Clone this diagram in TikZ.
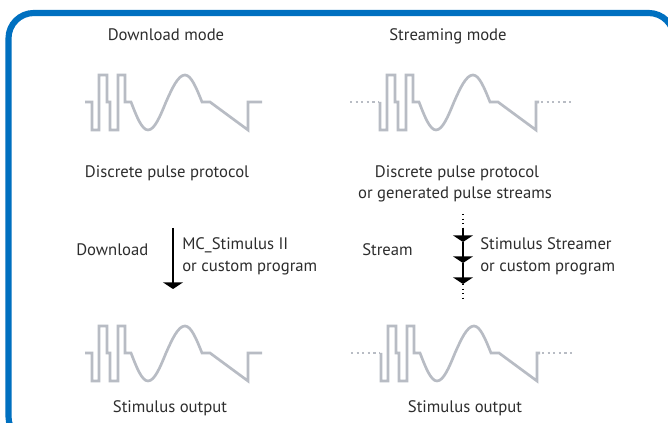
\documentclass[tikz,border=0pt]{standalone}
\usepackage{fontspec}
\setmainfont{PT Sans}
\usetikzlibrary{arrows.meta}
\definecolor{frameblue}{RGB}{0,112,192}
\definecolor{wavegray}{RGB}{184,188,196}
\definecolor{txtgray}{RGB}{45,45,45}
\tikzset{
  wavestyle/.style={draw=wavegray, line width=2pt, line join=miter},
  dotstyle/.style={draw=wavegray, line width=2pt, dash pattern=on 1.6pt off 2.6pt},
  lbl/.style={font=\fontsize{12.5pt}{15pt}\selectfont, text=txtgray, inner sep=0pt, anchor=base},
  lbll/.style={lbl, anchor=base west},
  arr/.style={draw=black, line width=1.1pt, -{Triangle[width=15pt,length=5pt]}},
  vdots/.style={draw=black, line width=0.8pt, dash pattern=on 0.8pt off 2.6pt},
  wavefull/.pic={
    \path[wavestyle] (0,0) -- (7,0) -- (7,28) -- (14,28) -- (14,-27) -- (22,-27) -- (22,0) -- (25,0)
      -- (25,28) -- (33,28) -- (33,-27) -- (40,-27) -- (40,0) -- (46,0)
      sin (63,28) cos (81,0) sin (100,-27) cos (117,0) -- (125,0) -- (163,28) -- (163,0) -- (177,0);
  },
  wavestream/.pic={
    \path[dotstyle] (-23,0) -- (6,0);
    \path[wavestyle] (7,0) -- (7,28) -- (14,28) -- (14,-27) -- (22,-27) -- (22,0) -- (25,0)
      -- (25,28) -- (33,28) -- (33,-27) -- (40,-27) -- (40,0) -- (46,0)
      sin (63,28) cos (81,0) sin (100,-27) cos (117,0) -- (125,0) -- (163,28) -- (163,0) -- (166,0);
    \path[dotstyle] (168,0) -- (200,0);
  }
}
\begin{document}
\begin{tikzpicture}[x=0.75pt,y=-0.75pt]
\useasboundingbox (0,0) rectangle (668,423);
\fill[white] (0,0) rectangle (668,423);
\begin{scope}
  \clip (0,0) rectangle (668,423);
  \draw[frameblue, line width=4.6pt, rounded corners=19pt] (8.5,13) rectangle (674,442);
\end{scope}

% titles
\node[lbl] (tdl) at (166,41) {Download mode};
\node[lbl] (tst) at (448,41) {Streaming mode};

% waves
\pic at (85,102) {wavefull};
\pic at (373,102) {wavestream};
\pic at (85,353) {wavefull};
\pic at (374,353) {wavestream};

% protocol labels
\node[lbl] (pdl) at (167,178) {Discrete pulse protocol};
\node[lbl] (pst1) at (457,178) {Discrete pulse protocol};
\node[lbl] (pst2) at (455,199) {or generated pulse streams};

% download arrow
\node[lbll] (ldl) at (76,256) {Download};
\coordinate (d0) at (173,228);
\coordinate (d1) at (173,289);
\draw[arr] (d0) -- (d1);
\node[lbll] (mc1) at (182,250) {MC\_Stimulus II};
\node[lbll] (mc2) at (182,272) {or custom program};

% stream arrows
\node[lbll] (lst) at (362,256) {Stream};
\coordinate (st) at (463,214);
\coordinate (s0) at (463,228);
\coordinate (s1) at (463,242);
\coordinate (s2) at (463,263);
\coordinate (s3) at (463,284);
\coordinate (sb) at (463,301);
\draw[vdots] (st) -- (s0);
\draw[arr] (s0) -- (s1);
\draw[arr] (s1) -- (s2);
\draw[arr] (s2) -- (s3);
\draw[vdots] (s3) -- (sb);
\node[lbll] (ss1) at (480,250) {Stimulus Streamer};
\node[lbll] (ss2) at (480,272) {or custom program};

% outputs
\node[lbl] (odl) at (170,413) {Stimulus output};
\node[lbl] (ost) at (465,413) {Stimulus output};
\end{tikzpicture}
\end{document}
